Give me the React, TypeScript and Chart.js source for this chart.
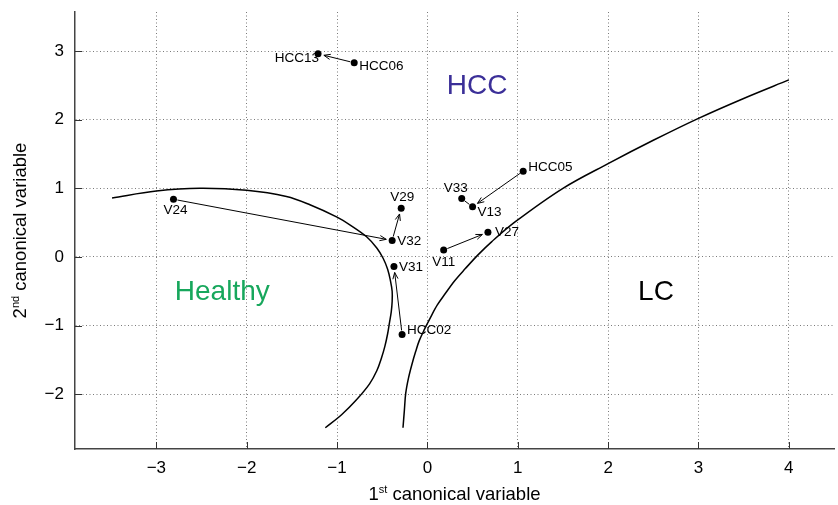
import React, { useEffect, useRef } from "react";
import { Chart, registerables } from "chart.js";

Chart.register(...registerables);

// ---- data ----
const pointNames = ["HCC13", "HCC06", "V24", "V29", "V32", "V31", "HCC02", "V33", "V13", "HCC05", "V27", "V11"];
const pointX = [-1.21, -0.81, -2.81, -0.29, -0.39, -0.37, -0.28, 0.38, 0.5, 1.06, 0.67, 0.18];
const pointY = [2.96, 2.83, 0.84, 0.71, 0.24, -0.14, -1.13, 0.85, 0.73, 1.25, 0.36, 0.1];

const arrowFrom = ["HCC06", "V24", "V32", "HCC02", "HCC05", "V11"];
const arrowTo = ["HCC13", "V32", "V29", "V31", "V13", "V27"];
const plainLinkFrom = ["V33"];
const plainLinkTo = ["V13"];

const curve1X = [-3.49, -3.0, -2.52, -2.0, -1.56, -1.3, -1.0, -0.85, -0.67, -0.56, -0.49, -0.44, -0.41, -0.39, -0.39, -0.4, -0.42, -0.44, -0.47, -0.51, -0.56, -0.64, -0.79, -0.95, -1.13];
const curve1Y = [0.86, 0.96, 1.0, 0.97, 0.88, 0.76, 0.58, 0.46, 0.29, 0.13, -0.02, -0.18, -0.34, -0.5, -0.65, -0.8, -0.96, -1.12, -1.3, -1.48, -1.66, -1.85, -2.09, -2.3, -2.49];

const curve2X = [-0.27, -0.255, -0.24, -0.21, -0.17, -0.13, -0.09, -0.03, 0.035, 0.11, 0.2, 0.3, 0.42, 0.56, 0.71, 0.97, 1.5, 2.0, 2.5, 3.0, 3.5, 4.0];
const curve2Y = [-2.49, -2.24, -1.99, -1.77, -1.56, -1.38, -1.22, -1.05, -0.88, -0.7, -0.53, -0.35, -0.17, 0.03, 0.22, 0.51, 1.0, 1.36, 1.7, 2.02, 2.31, 2.58];

const regionNames = ["HCC", "Healthy", "LC"];
const regionX = [0.55, -2.27, 2.53];
const regionY = [2.48, -0.52, -0.52];
const regionColors = ["#3b2f98", "#17a75c", "#000000"];

const xTicks = [-3, -2, -1, 0, 1, 2, 3, 4];
const yTicks = [-2, -1, 0, 1, 2, 3];

const FONT = "'Liberation Sans', Arial, Helvetica, sans-serif";

// label placement: [dx, dy, align]
const labelPlacement: Record<string, [number, number, CanvasTextAlign]> = {
  HCC13: [1, 4, "right"],
  HCC06: [5, 4, "left"],
  V24: [2, 11, "center"],
  V29: [1, -11, "center"],
  V32: [5, 1, "left"],
  V31: [5, 1, "left"],
  HCC02: [5, -4, "left"],
  V33: [-6, -10, "center"],
  V13: [5, 5, "left"],
  HCC05: [5, -4, "left"],
  V27: [7, 0, "left"],
  V11: [0, 12, "center"],
};

function fmt(v: number) {
  return v < 0 ? "\u2212" + Math.abs(v) : String(v);
}

function drawArrow(ctx: CanvasRenderingContext2D, x1: number, y1: number, x2: number, y2: number, head: boolean) {
  const ang = Math.atan2(y2 - y1, x2 - x1);
  const shrinkStart = 4;
  const shrinkEnd = head ? 6 : 4;
  const sx = x1 + Math.cos(ang) * shrinkStart;
  const sy = y1 + Math.sin(ang) * shrinkStart;
  const ex = x2 - Math.cos(ang) * shrinkEnd;
  const ey = y2 - Math.sin(ang) * shrinkEnd;
  ctx.beginPath();
  ctx.moveTo(sx, sy);
  ctx.lineTo(ex, ey);
  ctx.stroke();
  if (head) {
    const L = 7;
    const a = 0.38;
    ctx.beginPath();
    ctx.moveTo(ex - L * Math.cos(ang - a), ey - L * Math.sin(ang - a));
    ctx.lineTo(ex, ey);
    ctx.lineTo(ex - L * Math.cos(ang + a), ey - L * Math.sin(ang + a));
    ctx.stroke();
  }
}

function drawRichText(
  ctx: CanvasRenderingContext2D,
  parts: { t: string; sup: boolean }[],
  size: number
) {
  const supSize = Math.round(size * 0.6);
  let total = 0;
  for (const p of parts) {
    ctx.font = `${p.sup ? supSize : size}px ${FONT}`;
    total += ctx.measureText(p.t).width;
  }
  let x = -total / 2;
  ctx.textAlign = "left";
  ctx.textBaseline = "alphabetic";
  for (const p of parts) {
    ctx.font = `${p.sup ? supSize : size}px ${FONT}`;
    ctx.fillText(p.t, x, p.sup ? -size * 0.4 : 0);
    x += ctx.measureText(p.t).width;
  }
}

const overlayPlugin = {
  id: "overlay",
  afterDatasetsDraw(chart: any) {
    const ctx: CanvasRenderingContext2D = chart.ctx;
    const xs = chart.scales.x;
    const ys = chart.scales.y;
    const area = chart.chartArea;
    const px = (name: string) => {
      const i = pointNames.indexOf(name);
      return [xs.getPixelForValue(pointX[i]), ys.getPixelForValue(pointY[i])];
    };
    ctx.save();
    // inner tick marks
    ctx.strokeStyle = "#333";
    ctx.lineWidth = 1;
    for (const t of xTicks) {
      const x = Math.round(xs.getPixelForValue(t)) + 0.5;
      ctx.beginPath();
      ctx.moveTo(x, area.bottom);
      ctx.lineTo(x, area.bottom - 7);
      ctx.stroke();
    }
    for (const t of yTicks) {
      const y = Math.round(ys.getPixelForValue(t)) + 0.5;
      ctx.beginPath();
      ctx.moveTo(area.left, y);
      ctx.lineTo(area.left + 7, y);
      ctx.stroke();
    }
    // arrows
    ctx.strokeStyle = "#000";
    ctx.lineWidth = 1;
    for (let i = 0; i < arrowFrom.length; i++) {
      const [x1, y1] = px(arrowFrom[i]);
      const [x2, y2] = px(arrowTo[i]);
      drawArrow(ctx, x1, y1, x2, y2, true);
    }
    for (let i = 0; i < plainLinkFrom.length; i++) {
      const [x1, y1] = px(plainLinkFrom[i]);
      const [x2, y2] = px(plainLinkTo[i]);
      drawArrow(ctx, x1, y1, x2, y2, false);
    }
    // point labels
    ctx.fillStyle = "#000";
    ctx.font = `13.5px ${FONT}`;
    ctx.textBaseline = "middle";
    for (const name of pointNames) {
      const [x, y] = px(name);
      const [dx, dy, al] = labelPlacement[name];
      ctx.textAlign = al;
      ctx.fillText(name, x + dx, y + dy);
    }
    // region labels
    ctx.font = `28px ${FONT}`;
    ctx.textAlign = "center";
    ctx.textBaseline = "middle";
    for (let i = 0; i < regionNames.length; i++) {
      ctx.fillStyle = regionColors[i];
      ctx.fillText(regionNames[i], xs.getPixelForValue(regionX[i]), ys.getPixelForValue(regionY[i]));
    }
    ctx.restore();
  },
  afterDraw(chart: any) {
    const ctx: CanvasRenderingContext2D = chart.ctx;
    const area = chart.chartArea;
    ctx.save();
    ctx.fillStyle = "#000";
    // x title
    ctx.save();
    ctx.translate((area.left + area.right) / 2, 500);
    drawRichText(ctx, [{ t: "1", sup: false }, { t: "st", sup: true }, { t: " canonical variable", sup: false }], 18.5);
    ctx.restore();
    // y title
    ctx.save();
    ctx.translate(26, (area.top + area.bottom) / 2);
    ctx.rotate(-Math.PI / 2);
    drawRichText(ctx, [{ t: "2", sup: false }, { t: "nd", sup: true }, { t: " canonical variable", sup: false }], 18.5);
    ctx.restore();
    ctx.restore();
  },
};

export default function App() {
  const ref = useRef<HTMLCanvasElement | null>(null);
  useEffect(() => {
    if (!ref.current) return;
    const toXY = (xa: number[], ya: number[]) => xa.map((x, i) => ({ x, y: ya[i] }));
    const chart = new Chart(ref.current, {
      type: "scatter",
      data: {
        datasets: [
          {
            data: toXY(curve1X, curve1Y),
            showLine: true,
            borderColor: "#000",
            borderWidth: 1.5,
            pointRadius: 0,
            tension: 0.35,
            fill: false,
          },
          {
            data: toXY(curve2X, curve2Y),
            showLine: true,
            borderColor: "#000",
            borderWidth: 1.5,
            pointRadius: 0,
            tension: 0.35,
            fill: false,
          },
          {
            data: toXY(pointX, pointY),
            showLine: false,
            pointRadius: 3.5,
            pointBackgroundColor: "#000",
            pointBorderColor: "#000",
            pointBorderWidth: 0,
          },
        ],
      },
      options: {
        animation: false,
        responsive: true,
        maintainAspectRatio: false,
        layout: { padding: { top: 12, right: 1, left: 0, bottom: 0 } },
        plugins: { legend: { display: false }, tooltip: { enabled: false }, title: { display: false } },
        scales: {
          x: {
            type: "linear",
            min: -3.9,
            max: 4.5,
            afterFit: (s: any) => {
              s.height = 56;
              s.paddingLeft = 0;
              s.paddingRight = 0;
            },
            afterBuildTicks: (s: any) => {
              s.ticks = xTicks.map((v) => ({ value: v }));
            },
            ticks: {
              includeBounds: false,
              padding: 9,
              color: "#000",
              font: { family: FONT, size: 17 },
              callback: (v: any) => fmt(Number(v)),
              maxRotation: 0,
            },
            grid: {
              color: "#7a7a7a",
              lineWidth: 1,
              drawTicks: false,
            },
            border: { display: true, color: "#444", width: 1.5, dash: [1, 2.5] } as any,
          },
          y: {
            type: "linear",
            min: -2.8,
            max: 3.57,
            afterFit: (s: any) => {
              s.width = 75;
              s.paddingTop = 0;
              s.paddingBottom = 0;
            },
            afterBuildTicks: (s: any) => {
              s.ticks = yTicks.map((v) => ({ value: v }));
            },
            ticks: {
              includeBounds: false,
              padding: 11,
              color: "#000",
              font: { family: FONT, size: 17 },
              callback: (v: any) => fmt(Number(v)),
            },
            grid: {
              color: "#7a7a7a",
              lineWidth: 1,
              drawTicks: false,
            },
            border: { display: true, color: "#444", width: 1.5, dash: [1, 2.5] } as any,
          },
        },
      },
      plugins: [overlayPlugin],
    });
    return () => chart.destroy();
  }, []);
  return (
    <div style={{ position: "fixed", left: 0, top: 0, width: 838, height: 505, background: "#fff" }}>
      <canvas ref={ref} />
    </div>
  );
}
